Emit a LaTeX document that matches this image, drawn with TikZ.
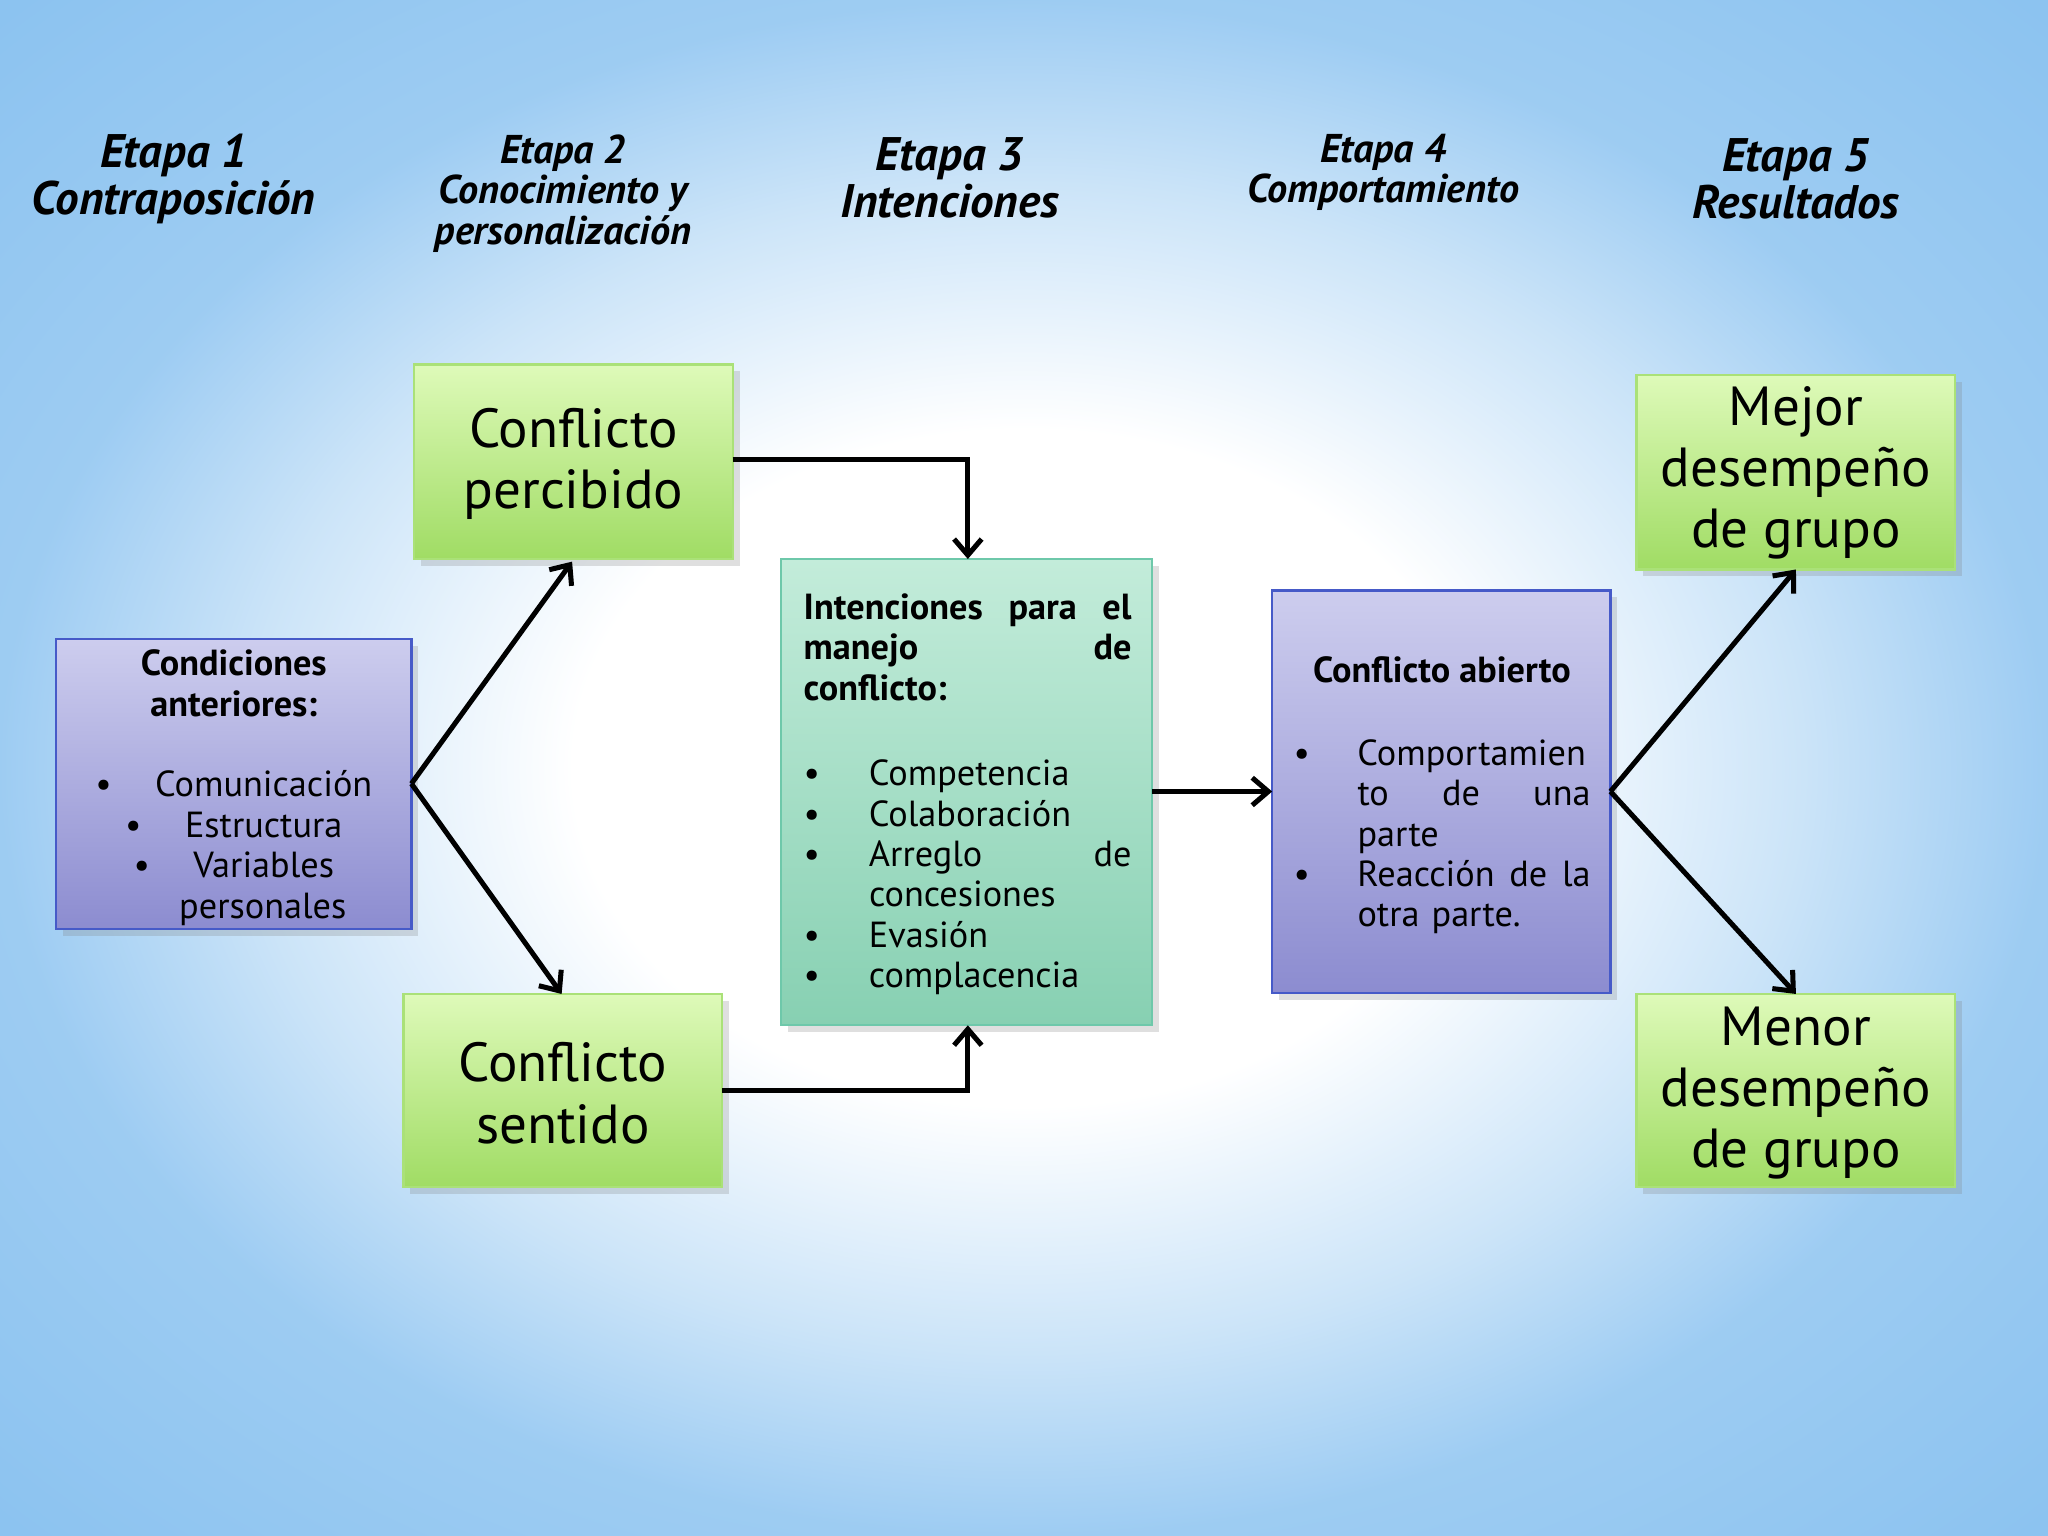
\documentclass[tikz,border=0pt]{standalone}
\usepackage{fontspec}
\setmainfont{PT Sans}
\usetikzlibrary{arrows.meta,shadows}
\definecolor{bgblue}{RGB}{140,195,240}
\definecolor{gtop}{RGB}{222,250,185}
\definecolor{gbot}{RGB}{160,220,100}
\definecolor{gline}{RGB}{170,225,120}
\definecolor{ptop}{RGB}{205,205,238}
\definecolor{pbot}{RGB}{140,140,208}
\definecolor{pline}{RGB}{70,90,200}
\definecolor{ttop}{RGB}{195,236,218}
\definecolor{tbot}{RGB}{135,208,178}
\definecolor{tline}{RGB}{110,200,170}
\pgfdeclareradialshading{bgshade}{\pgfpoint{0bp}{0bp}}{color(0bp)=(white); color(11bp)=(white); color(19bp)=(bgblue!45); color(25bp)=(bgblue!85); color(35bp)=(bgblue); color(50bp)=(bgblue)}
\tikzset{
 box/.style={draw, line width=1pt, drop shadow={opacity=0.25,shadow xshift=3pt,shadow yshift=-3pt}},
 gbox/.style={box, draw=gline, top color=gtop, bottom color=gbot},
 pbox/.style={box, draw=pline, top color=ptop, bottom color=pbot},
 tbox/.style={box, draw=tline, top color=ttop, bottom color=tbot},
 big/.style={font=\fontsize{24}{26.7}\selectfont, align=center},
 body/.style={font=\fontsize{15.8}{17.6}\selectfont},
 ttl/.style={font=\bfseries\itshape\fontsize{20.5}{20.5}\selectfont, align=center},
 ttls/.style={font=\bfseries\itshape\fontsize{17.5}{17.6}\selectfont, align=center},
 arr/.style={line width=2.2pt, -{Straight Barb[length=7pt,width=12pt]}}
}
\begin{document}
\begin{tikzpicture}[x=0.02cm,y=-0.02cm]
\useasboundingbox (0,0) rectangle (1568,1176);
\shade[shading=bgshade] (0,0) rectangle (1568,1176);
% titles
\node[ttl] (t1) at (133,137) {Etapa 1\\Contraposición};
\node[ttls] (t2) at (431,148) {Etapa 2\\Conocimiento y\\personalización};
\node[ttl] (t3) at (727,136) {Etapa 3\\Intenciones};
\node[ttls] (t4) at (1059,132) {Etapa 4\\Comportamiento};
\node[ttl] (t5) at (1375,137) {Etapa 5\\Resultados};
% boxes
\path[pbox] (43,489) rectangle (315,711);
\path[gbox] (317,279) rectangle (561,428);
\path[gbox] (309,761) rectangle (553,909);
\path[tbox] (598,428) rectangle (882,785);
\path[pbox] (974,452) rectangle (1233,760);
\path[gbox] (1253,287) rectangle (1497,436);
\path[gbox] (1253,761) rectangle (1497,909);
\coordinate (cond) at (315,600);
\coordinate (percB) at (438,430);
\coordinate (sentT) at (430,761);
\coordinate (percR) at (561,352);
\coordinate (intT) at (741,428);
\coordinate (sentR) at (553,835);
\coordinate (intB) at (741,785);
\coordinate (intR) at (882,606);
\coordinate (abL) at (974,606);
\coordinate (abR) at (1233,606);
\coordinate (mejB) at (1375,436);
\coordinate (menT) at (1375,761);
% texts
\node[body, align=center] (condt) at (179,603) {\textbf{Condiciones}\\\textbf{anteriores:}\\[17.6pt]
\textbullet\hspace{1.2em}Comunicación\\\textbullet\hspace{1.2em}Estructura\\\textbullet\hspace{1.2em}Variables\\\hspace{1.6em}personales};
\node[big] (perc) at (439,355) {Conflicto\\percibido};
\node[big] (sent) at (431,837) {Conflicto\\sentido};
\node[big] (mej) at (1375,362) {Mejor\\desempeño\\de grupo};
\node[big] (men) at (1375,837) {Menor\\desempeño\\de grupo};
\node[body, anchor=north west, inner sep=0pt, text width=5.02cm, align=justify] (intt) at (615,454) {\textbf{Intenciones para el\linebreak manejo de\linebreak conflicto:}\par\vspace{23.8pt}
\noindent\begin{tabular}{@{}p{1.0cm}@{}p{4.02cm}@{}}
\textbullet & Competencia\\
\textbullet & Colaboración\\
\textbullet & Arreglo\hfill de\newline concesiones\\
\textbullet & Evasión\\
\textbullet & complacencia
\end{tabular}};
\node[body, font=\bfseries\fontsize{15.8}{17.6}\selectfont] (abt) at (1104,513) {Conflicto abierto};
\node[body, anchor=north west, inner sep=0pt, text width=4.55cm] (abb) at (990,564) {%
\noindent\begin{tabular}{@{}p{0.98cm}@{}p{3.57cm}@{}}
\textbullet & Comportamien\newline to\hfill de\hfill una\newline parte\\
\textbullet & Reacción\hfill de\hfill la\newline otra parte.
\end{tabular}};
% arrows
\draw[arr] (cond) -- (percB);
\draw[arr] (cond) -- (sentT);
\draw[arr] (percR) -| (intT);
\draw[arr] (sentR) -| (intB);
\draw[arr] (intR) -- (abL);
\draw[arr] (abR) -- (mejB);
\draw[arr] (abR) -- (menT);
\end{tikzpicture}
\end{document}
